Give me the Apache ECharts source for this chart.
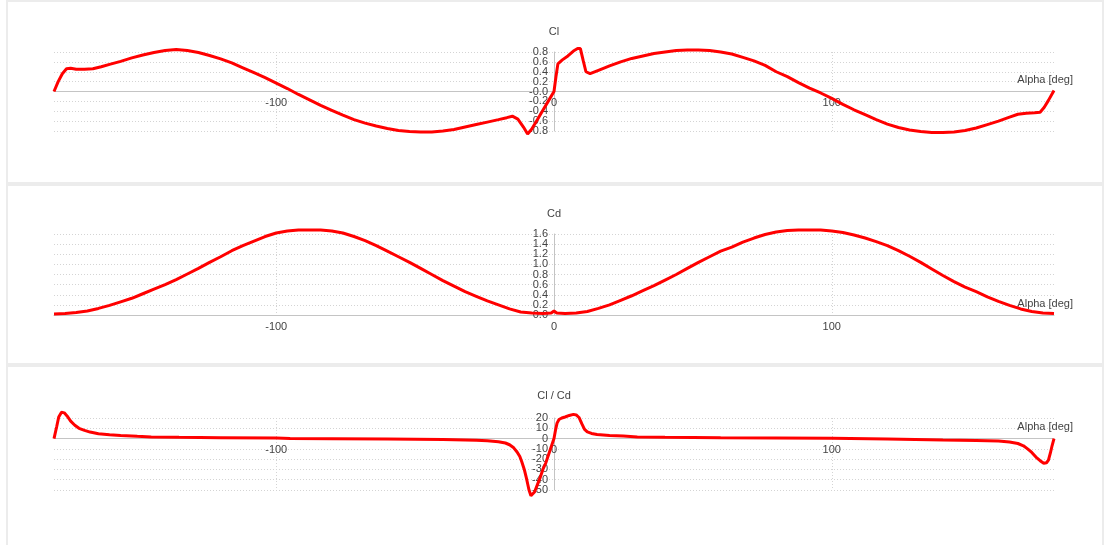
<!DOCTYPE html>
<html>
<head>
<meta charset="utf-8">
<script src="https://cdn.jsdelivr.net/npm/echarts@6/dist/echarts.min.js"></script>
<style>
html,body{margin:0;padding:0;background:#fff;}
#chart{width:1107px;height:545px;}
</style>
</head>
<body>
<div id="chart"></div>
<script>
// ---- data ----
var xTicks = [-100, 0, 100];
var xMin = -180, xMax = 180;
var panelTitles = ['Cl', 'Cd', 'Cl / Cd'];
var xName = 'Alpha [deg]';

var clAlpha = [-180,-178.5,-177,-175.5,-174,-172,-169,-166,-163,-160,-156,-152,-148,-144,-140,-136,-132,-128,-124,-120,-116,-112,-108,-104,-100,-96,-92,-88,-84,-80,-76,-72,-68,-64,-60,-56,-52,-48,-44,-40,-36,-32,-28,-24,-20,-17,-15,-13,-11,-9.5,-8,-6,-4,-2,0,0.7,1.4,3,5,7,8.5,9.5,10.5,11.5,13,16,20,24,28,32,36,40,44,48,52,56,60,64,68,72,76,80,84,88,92,96,100,104,108,112,116,120,124,128,132,136,140,144,148,152,156,160,164,167,170,173,175,176.5,178,180];
var clValues = [0.00,0.20,0.36,0.46,0.47,0.45,0.45,0.46,0.50,0.55,0.61,0.68,0.74,0.79,0.83,0.85,0.83,0.79,0.73,0.66,0.58,0.48,0.38,0.28,0.17,0.06,-0.06,-0.17,-0.28,-0.38,-0.48,-0.57,-0.64,-0.70,-0.75,-0.79,-0.81,-0.82,-0.82,-0.80,-0.77,-0.72,-0.67,-0.62,-0.57,-0.53,-0.50,-0.56,-0.72,-0.86,-0.76,-0.57,-0.38,-0.19,0.00,0.30,0.56,0.64,0.72,0.82,0.87,0.87,0.63,0.40,0.36,0.43,0.52,0.60,0.67,0.72,0.77,0.80,0.83,0.84,0.84,0.83,0.80,0.76,0.69,0.62,0.53,0.40,0.30,0.18,0.07,-0.03,-0.14,-0.26,-0.37,-0.47,-0.57,-0.66,-0.73,-0.78,-0.81,-0.83,-0.83,-0.82,-0.79,-0.74,-0.67,-0.60,-0.52,-0.46,-0.44,-0.43,-0.42,-0.32,-0.18,0.02];

var cdAlpha = [-180,-176,-172,-168,-164,-160,-156,-152,-148,-144,-140,-136,-132,-128,-124,-120,-116,-112,-108,-104,-100,-96,-92,-88,-84,-80,-76,-72,-68,-64,-60,-56,-52,-48,-44,-40,-36,-32,-28,-24,-20,-16,-12,-8,-4,-1,0,1,4,8,12,16,20,24,28,32,36,40,44,48,52,56,60,64,68,72,76,80,84,88,92,96,100,104,108,112,116,120,124,128,132,136,140,144,148,152,156,160,164,168,172,176,180];
var cdValues = [0.02,0.03,0.05,0.08,0.13,0.19,0.26,0.33,0.42,0.51,0.60,0.70,0.81,0.92,1.04,1.15,1.27,1.37,1.46,1.55,1.62,1.66,1.68,1.68,1.68,1.66,1.62,1.55,1.47,1.37,1.26,1.15,1.04,0.92,0.80,0.68,0.57,0.46,0.37,0.28,0.20,0.12,0.06,0.04,0.03,0.04,0.08,0.04,0.03,0.04,0.07,0.13,0.20,0.29,0.38,0.48,0.58,0.69,0.80,0.92,1.04,1.15,1.26,1.34,1.44,1.52,1.59,1.64,1.67,1.68,1.68,1.68,1.66,1.63,1.58,1.52,1.45,1.37,1.27,1.16,1.04,0.91,0.78,0.66,0.55,0.46,0.36,0.27,0.19,0.12,0.07,0.04,0.03];

var ratioAlpha = [-180,-179,-178.3,-177.3,-176.3,-175.3,-174,-172.5,-171,-169,-167,-164,-160,-156,-150,-145,-135,-120,-100,-95,-80,-60,-40,-28,-24,-20,-17.5,-16,-14.5,-13.3,-12.3,-11.6,-10.7,-9.8,-9,-8.3,-7.7,-7,-6,-5,-4,-3,-2,-1,0,0.6,1.1,1.8,2.8,4,5.5,7,8,9,10,11,12,13.5,15.5,20,25,30,40,60,80,100,120,140,152,160,164,167,169,170.5,172,173.5,175,176.3,177.3,178,178.7,179.3,180];
var ratioValues = [0,12,21,25.5,25,22,17,13,10,8,6.3,4.6,3.6,3,2.2,1.6,1.2,0.9,0.5,0.1,-0.2,-0.5,-1,-1.6,-2.2,-3,-4.3,-6,-9,-13,-17.5,-22.5,-30,-40,-50,-55.5,-56.5,-52,-45,-38,-30,-24,-16,-8,0,9,15,18.5,20,21,22.5,23.5,23,20.5,14.5,9,6.5,5,4,3,2.4,1.5,1.2,0.8,0.6,0.2,-0.3,-1.3,-1.8,-2.4,-3.3,-4.8,-7,-10,-13.5,-18,-21.5,-24,-23.5,-21,-14,-7,0];

var yMin = [-0.8, 0, -50];
var yMax = [0.8, 1.6, 20];
var yStep = [0.2, 0.2, 10];

// ---- chart ----
function pairs(xs, ys){ return xs.map(function(x,i){ return [x, ys[i]]; }); }

var FONT = 'Liberation Sans';
var TXT = '#444';
var W = 1107, GL = 54, GR = 53;
var gridW = W - GL - GR;
var gridDef = [
  {top: 52, height: 79},
  {top: 234, height: 81},
  {top: 418, height: 72}
];
var nameGaps = [15, 15, 17];

var grids = [], xAxes = [], yAxes = [], series = [];
var allData = [pairs(clAlpha, clValues), pairs(cdAlpha, cdValues), pairs(ratioAlpha, ratioValues)];
// axes cross at zero: offsets of the axis lines inside each grid
var yOffsetLeft = -gridW * (0 - xMin) / (xMax - xMin);
var yOffsetRight = -gridW * (xMax - 0) / (xMax - xMin);

function fmt(idx){
  return function(v){
    if (idx === 2) return String(Math.round(v));
    if (Math.abs(v) < 1e-9) return idx === 0 ? '-0.0' : '0.0';
    return v.toFixed(1);
  };
}

for (var i = 0; i < 3; i++) {
  var h = gridDef[i].height;
  var xOffset = -h * (0 - yMin[i]) / (yMax[i] - yMin[i]);
  grids.push({left: GL, right: GR, top: gridDef[i].top, height: h, containLabel: false});
  xAxes.push({
    type: 'value', gridIndex: i, min: xMin, max: xMax, position: 'bottom', offset: xOffset,
    name: xName, nameLocation: 'end', nameGap: 19,
    nameTextStyle: {fontFamily: FONT, fontSize: 11, color: TXT, align: 'right', verticalAlign: 'bottom', padding: [0, 0, 6, 0]},
    axisLine: {show: true, onZero: false, lineStyle: {color: '#c4c4c4', width: 1}},
    axisTick: {show: false, customValues: xTicks},
    axisLabel: {customValues: xTicks, fontFamily: FONT, fontSize: 11, color: TXT, margin: 6},
    splitLine: {show: true, lineStyle: {color: '#d4d4d4', type: [1, 2], width: 1}}
  });
  // main y axis: line, grid lines, inner tick labels
  yAxes.push({
    type: 'value', gridIndex: i, min: yMin[i], max: yMax[i], interval: yStep[i],
    position: 'left', offset: yOffsetLeft,
    name: panelTitles[i], nameLocation: 'end', nameGap: nameGaps[i],
    nameTextStyle: {fontFamily: FONT, fontSize: 11, color: TXT},
    axisLine: {show: true, onZero: false, lineStyle: {color: '#c4c4c4', width: 1}},
    axisTick: {show: false},
    axisLabel: {
      fontFamily: FONT, fontSize: 11, color: TXT, margin: 6,
      showMinLabel: false, showMaxLabel: false,
      formatter: fmt(i)
    },
    splitLine: {show: true, lineStyle: {color: '#d4d4d4', type: [1, 2], width: 1}}
  });
  // companion y axis at the same place: only the end labels (min / max)
  yAxes.push({
    type: 'value', gridIndex: i, min: yMin[i], max: yMax[i], interval: yStep[i],
    position: 'right', offset: yOffsetRight,
    axisLine: {show: false, onZero: false},
    axisTick: {show: false},
    splitLine: {show: false},
    axisLabel: {
      customValues: [yMin[i], yMax[i]], inside: true,
      fontFamily: FONT, fontSize: 11, color: TXT, margin: 6,
      showMinLabel: true, showMaxLabel: true,
      formatter: fmt(i)
    }
  });
  series.push({
    type: 'line', xAxisIndex: i, yAxisIndex: 2 * i, data: allData[i],
    showSymbol: false, clip: false, smooth: false,
    lineStyle: {color: '#ff0000', width: 3}, z: 5
  });
}

var chart = echarts.init(document.getElementById('chart'), null, {renderer: 'canvas'});
chart.setOption({
  animation: false,
  backgroundColor: '#ffffff',
  graphic: [
    {type: 'rect', z: -10, silent: true, shape: {x: 7, y: 1, width: 1096, height: 182}, style: {fill: '#fff', stroke: '#ececec', lineWidth: 2}},
    {type: 'rect', z: -10, silent: true, shape: {x: 7, y: 185, width: 1096, height: 179}, style: {fill: '#fff', stroke: '#ececec', lineWidth: 2}},
    {type: 'rect', z: -10, silent: true, shape: {x: 7, y: 366, width: 1096, height: 185}, style: {fill: '#fff', stroke: '#ececec', lineWidth: 2}}
  ],
  grid: grids,
  xAxis: xAxes,
  yAxis: yAxes,
  series: series
});
</script>
</body>
</html>
